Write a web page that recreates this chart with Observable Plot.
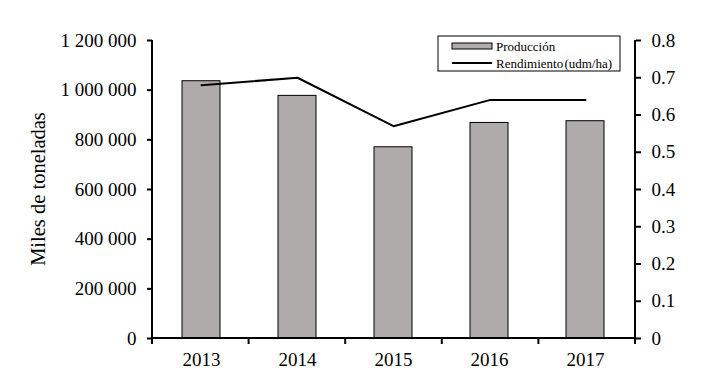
<!DOCTYPE html>
<html><head><meta charset="utf-8">
<script src="https://cdn.jsdelivr.net/npm/d3@7"></script>
<script src="https://cdn.jsdelivr.net/npm/@observablehq/plot@0.6"></script>
<style>
html,body{margin:0;padding:0;background:#fff;}
</style>
</head><body>
<div id="chart"></div>
<script>
// ---- Data ----
const years = ["2013", "2014", "2015", "2016", "2017"];
const produccion = [1036000, 977000, 770000, 868000, 875000];
const rendimiento = [0.68, 0.70, 0.57, 0.64, 0.64];
const leftTicks = [0, 200000, 400000, 600000, 800000, 1000000, 1200000];
const rightTicks = [0, 0.1, 0.2, 0.3, 0.4, 0.5, 0.6, 0.7, 0.8];
const legendLabels = ["Producción", "Rendimiento (udm/ha)"];
const yLabel = "Miles de toneladas";

const yMax = leftTicks[leftTicks.length - 1];
const rMax = rightTicks[rightTicks.length - 1];
const factor = yMax / rMax;
const data = years.map((year, i) => ({year, prod: produccion[i], rend: rendimiento[i]}));

const barFill = "#afabaa";
const font = "'Liberation Serif', 'Times New Roman', serif";

function decorations(index, scales, values, dim) {
  const {width, height, marginTop, marginRight, marginBottom, marginLeft} = dim;
  const x0 = marginLeft, x1 = width - marginRight, y0 = height - marginBottom;
  const yTop = scales.y(yMax);
  const g = d3.create("svg:g");
  // axis lines
  g.append("path")
    .attr("d", `M${x0},${yTop}V${y0}H${x1}V${yTop}`)
    .attr("fill", "none").attr("stroke", "black").attr("stroke-width", 2);
  // category boundary ticks
  const step = (x1 - x0) / years.length;
  for (let i = 0; i <= years.length; i++) {
    g.append("line")
      .attr("x1", x0 + i * step).attr("x2", x0 + i * step)
      .attr("y1", y0).attr("y2", y0 + 6)
      .attr("stroke", "black").attr("stroke-width", 2);
  }
  // y label
  g.append("text")
    .attr("transform", `translate(45,${(yTop + y0) / 2}) rotate(-90)`)
    .attr("text-anchor", "middle")
    .attr("font-size", "20.5px")
    .attr("fill", "black")
    .text(yLabel);
  // legend
  const lx = 438, ly = 36, lw = 182, lh = 35;
  const lg = g.append("g").attr("text-anchor", "start");
  lg.append("rect").attr("x", lx).attr("y", ly).attr("width", lw).attr("height", lh)
    .attr("fill", "white").attr("stroke", "black").attr("stroke-width", 1);
  lg.append("rect").attr("x", lx + 14).attr("y", ly + 7).attr("width", 40).attr("height", 6)
    .attr("fill", barFill).attr("stroke", "black").attr("stroke-width", 1);
  lg.append("line").attr("x1", lx + 14).attr("x2", lx + 54).attr("y1", ly + 27).attr("y2", ly + 27)
    .attr("stroke", "black").attr("stroke-width", 2);
  lg.append("text").attr("x", lx + 58).attr("y", ly + 15).attr("font-size", "13px").attr("fill", "black")
    .attr("text-anchor", "start")
    .text(legendLabels[0]);
  lg.append("text").attr("x", lx + 58).attr("y", ly + 32).attr("font-size", "13px").attr("fill", "black")
    .attr("text-anchor", "start")
    .attr("word-spacing", "-2px")
    .text(legendLabels[1]);
  return g.node();
}

const chart = Plot.plot({
  width: 714,
  height: 387,
  marginLeft: 152,
  marginRight: 79,
  marginTop: 40,
  marginBottom: 49,
  style: {fontFamily: font, fontSize: "19px", color: "black", background: "white"},
  x: {type: "band", domain: years, paddingInner: 0.6, paddingOuter: 0.3, label: null},
  y: {domain: [0, yMax], label: null},
  marks: [
    Plot.barY(data, {x: "year", y: "prod", fill: barFill, stroke: "black", strokeWidth: 1}),
    Plot.line(data, {x: "year", y: d => d.rend * factor, stroke: "black", strokeWidth: 2}),
    Plot.axisY(leftTicks, {anchor: "left", tickSize: 5, tickPadding: 11, strokeWidth: 2,
      tickFormat: d => d3.format(",")(d).replace(/,/g, " "), label: null}),
    Plot.axisY(rightTicks.map(r => r * factor), {anchor: "right", tickSize: 5, tickPadding: 11, strokeWidth: 2,
      tickFormat: d => String(+(d / factor).toFixed(1)), label: null}),
    Plot.axisX({tickSize: 0, tickPadding: 14, label: null}),
    decorations
  ]
});
document.getElementById("chart").appendChild(chart);
</script>
</body></html>
